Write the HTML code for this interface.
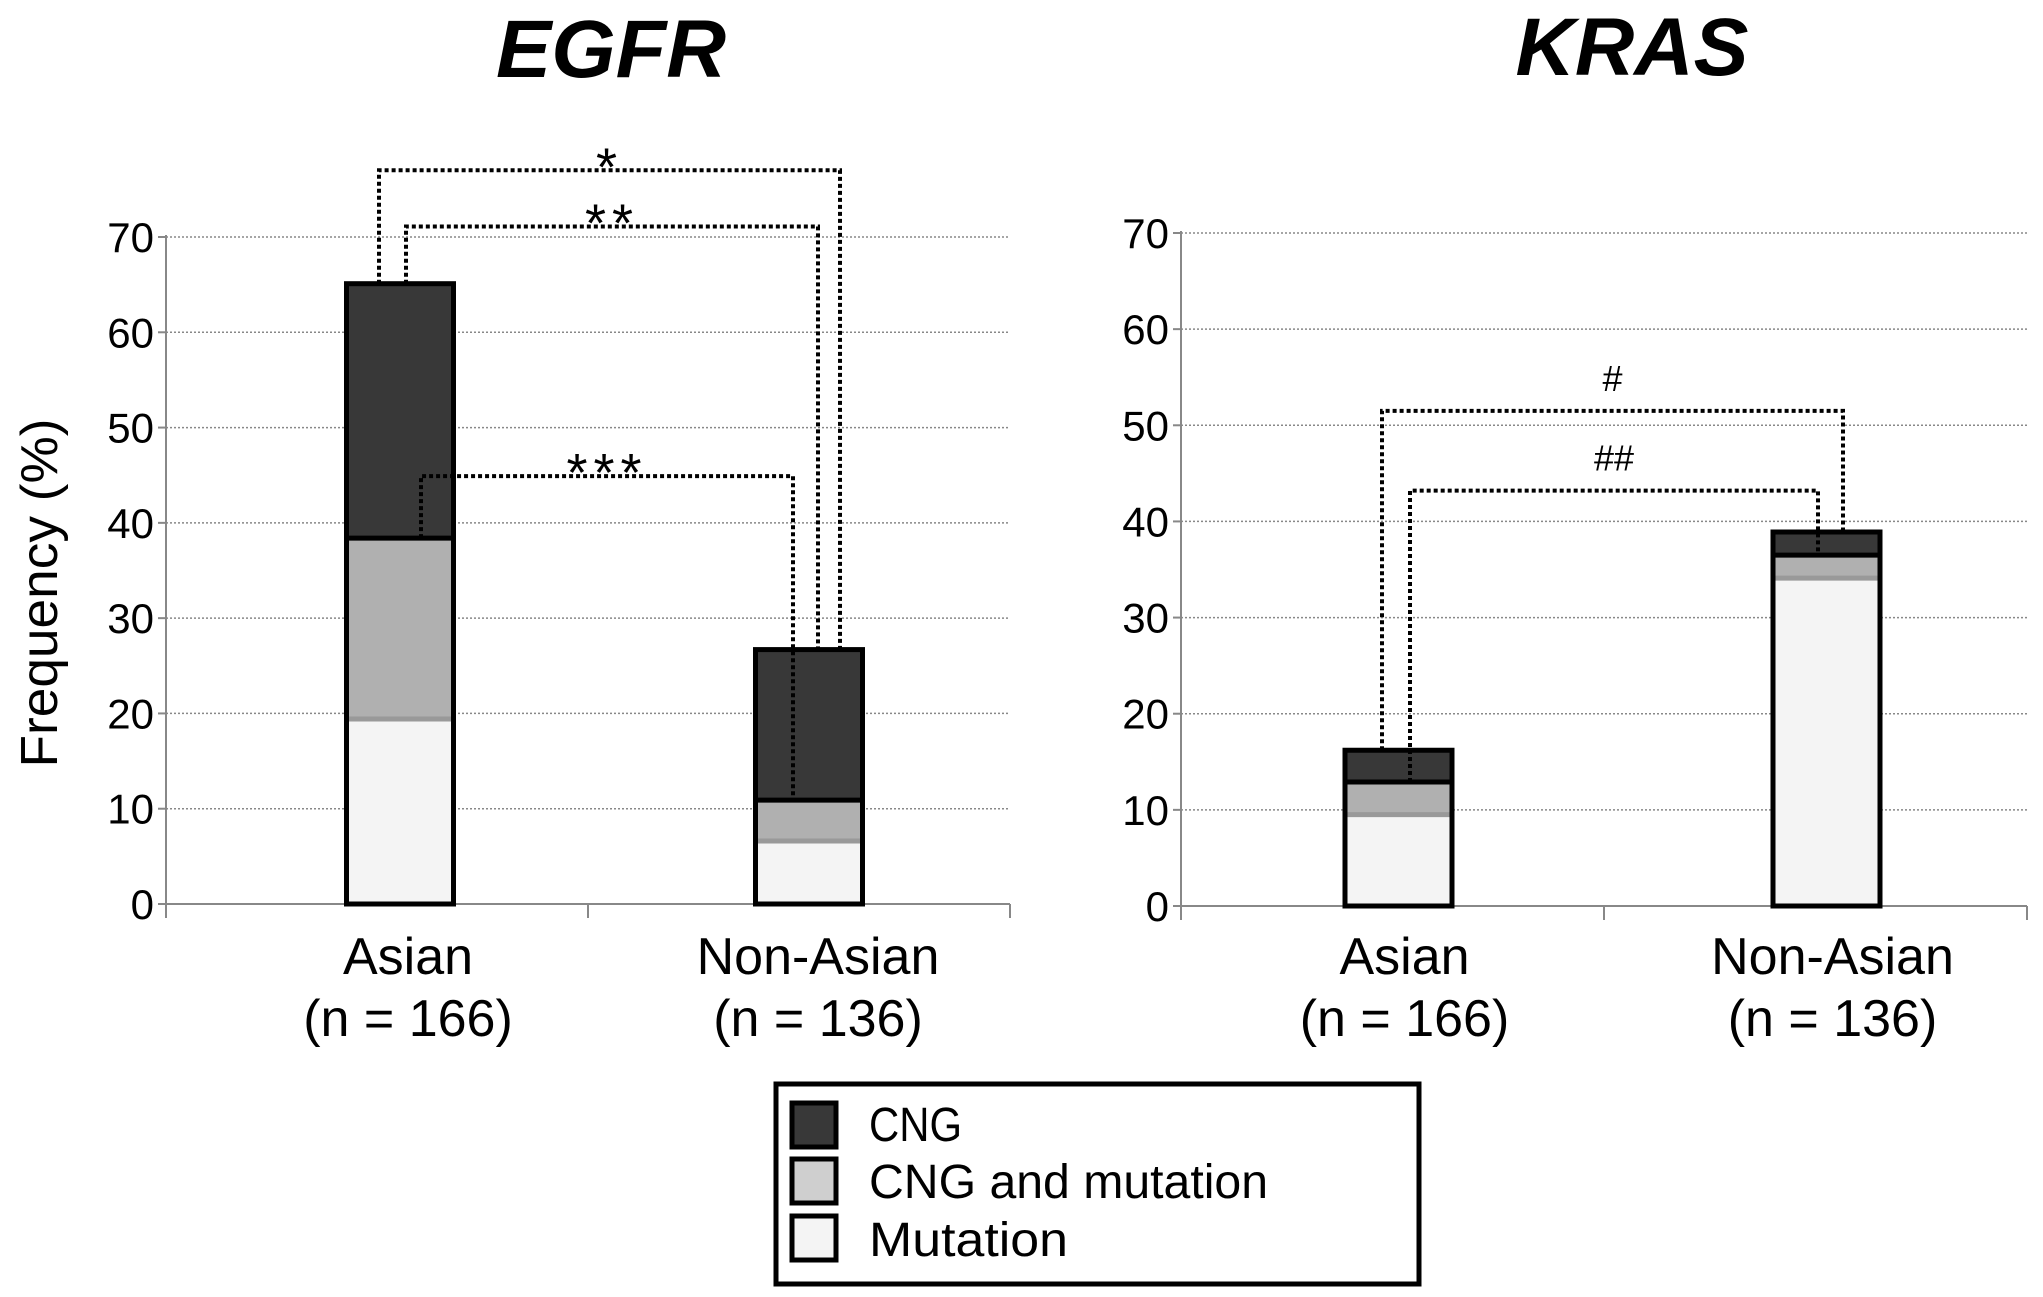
<!DOCTYPE html>
<html><head><meta charset="utf-8"><style>
html,body{margin:0;padding:0;background:#fff;}
svg{display:block;font-family:"Liberation Sans",Arial,sans-serif;}
</style></head><body>
<svg id="fig" width="2043" height="1297" viewBox="0 0 2043 1297">
<text x="611" y="77" font-size="82" font-weight="bold" font-style="italic" text-anchor="middle" textLength="230" lengthAdjust="spacingAndGlyphs">EGFR</text>
<text x="1632" y="75" font-size="82" font-weight="bold" font-style="italic" text-anchor="middle" textLength="233" lengthAdjust="spacingAndGlyphs">KRAS</text>
<text transform="translate(57,593) rotate(-90)" font-size="52" text-anchor="middle" textLength="349" lengthAdjust="spacingAndGlyphs">Frequency (%)</text>
<g id="legend">
<rect x="776" y="1084" width="643" height="200" fill="#fff" stroke="#000" stroke-width="5"/>
<rect x="792" y="1103" width="44" height="44" fill="#383838" stroke="#000" stroke-width="5"/>
<text x="869" y="1141" font-size="48" textLength="93" lengthAdjust="spacingAndGlyphs">CNG</text>
<rect x="792" y="1159" width="44" height="44" fill="#cfcfcf" stroke="#000" stroke-width="5"/>
<text x="869" y="1198" font-size="48" textLength="399" lengthAdjust="spacingAndGlyphs">CNG and mutation</text>
<rect x="792" y="1216" width="44" height="44" fill="#f4f4f4" stroke="#000" stroke-width="5"/>
<text x="869" y="1256" font-size="48" textLength="199" lengthAdjust="spacingAndGlyphs">Mutation</text>
</g>
</svg>
<script>
const categories = ["Asian", "Non-Asian"];
const sampleLabels = ["(n = 166)", "(n = 136)"];
const yTicks = [0, 10, 20, 30, 40, 50, 60, 70];
const egfrMutation = [19.2, 6.4];
const egfrCngMut = [19.2, 4.5];
const egfrCng = [26.7, 15.8];
const krasMutation = [9.3, 33.9];
const krasCngMut = [3.6, 2.6];
const krasCng = [3.3, 2.4];
const egfrBracketLevels = [77.0, 71.1, 44.9];
const egfrBracketLabels = ["*", "**", "***"];
const krasBracketLevels = [51.5, 43.2];
const krasBracketLabels = ["#", "##"];

const NS = "http://www.w3.org/2000/svg";
const svg = document.getElementById("fig");
function mk(tag, attrs, parent) {
  const e = document.createElementNS(NS, tag);
  for (const k in attrs) e.setAttribute(k, attrs[k]);
  (parent || svg).appendChild(e);
  return e;
}

function drawPanel(p) {
  const g = mk("g", {});
  
  
  const y = v => p.y0 - (v / 70) * (p.y0 - p.y70);
  const bandW = (p.x1 - p.x0) / categories.length;
  const cx = i => p.x0 + bandW * (i + 0.5) + p.barShift[i];
  yTicks.forEach(t => {
    if (t > 0) {
      const gl = mk("line", {x1: p.x0, x2: p.x1, y1: y(t), y2: y(t), stroke: "#888", "stroke-width": 1.5, "stroke-dasharray": "2,2"}, g);
      
      
    }
    const tk = mk("line", {x1: p.x0 - 8, x2: p.x0, y1: y(t), y2: y(t), stroke: "#888", "stroke-width": 2}, g);
    
    
    const tl = mk("text", {x: p.x0 - 12, y: y(t) + 15, "font-size": 42, "text-anchor": "end"}, g);
    tl.textContent = t;
    
    
  });
  const ya = mk("line", {x1: p.x0, x2: p.x0, y1: p.y70 - 2, y2: p.y0 + 14, stroke: "#888", "stroke-width": 2}, g);
  
  
  const xa = mk("line", {x1: p.x0, x2: p.x1, y1: p.y0, y2: p.y0, stroke: "#888", "stroke-width": 2}, g);
  
  
  [1, 2].forEach(i => {
    const xt = mk("line", {x1: p.x0 + bandW * i, x2: p.x0 + bandW * i, y1: p.y0, y2: p.y0 + 14, stroke: "#888", "stroke-width": 2}, g);
    
    
  });
  categories.forEach((c, i) => {
    const t1 = mk("text", {x: p.x0 + bandW * (i + 0.5) + p.labelShift[i], y: 974, "font-size": 52, "text-anchor": "middle"}, g);
    t1.textContent = c;
    
    
    const t2 = mk("text", {x: p.x0 + bandW * (i + 0.5) + p.labelShift[i], y: 1036, "font-size": 52, "text-anchor": "middle"}, g);
    t2.textContent = sampleLabels[i];
    
    
  });
  const bw = 107;
  categories.forEach((c, i) => {
    const m = p.mut[i], cm = p.cm[i], cn = p.cng[i];
    const x = cx(i) - bw / 2;
    const segs = [[0, m, "#f4f4f4", "mutation"], [m, m + cm, "#b0b0b0", "cng-and-mutation"], [m + cm, m + cm + cn, "#383838", "cng"]];
    segs.forEach(s => {
      const r = mk("rect", {x: x, y: y(s[1]), width: bw, height: y(s[0]) - y(s[1]), fill: s[2]}, g);
      
      
    });
    const ml = mk("line", {x1: x, x2: x + bw, y1: y(m) - 2, y2: y(m) - 2, stroke: "#999", "stroke-width": 5}, g);
    
    
    const cl = mk("line", {x1: x, x2: x + bw, y1: y(m + cm), y2: y(m + cm), stroke: "#000", "stroke-width": 5}, g);
    
    
    const ol = mk("rect", {x: x, y: y(m + cm + cn), width: bw, height: y(0) - y(m + cm + cn), fill: "none", stroke: "#000", "stroke-width": 5}, g);
    
    
  });
  p.brackets.forEach((b, k) => {
    const lvl = p.levels[k];
    const d = `M${b.xl},${y(b.yl)} L${b.xl},${y(lvl)} L${b.xr},${y(lvl)} L${b.xr},${y(b.yr)}`;
    const pa = mk("path", {d: d, fill: "none", stroke: "#000", "stroke-width": 4, "stroke-dasharray": "4,3"}, g);
    
    
    const lt = mk("text", {x: (b.xl + b.xr) / 2, y: y(lvl) + b.ly, "font-size": p.labelSize, "text-anchor": "middle", "letter-spacing": p.ls}, g);
    lt.textContent = p.labels[k];
    
    
  });
}

drawPanel({name: "egfr", x0: 166, x1: 1010, y0: 904, y70: 237, barShift: [23, 10], labelShift: [31, 19],
  mut: egfrMutation, cm: egfrCngMut, cng: egfrCng, levels: egfrBracketLevels, labels: egfrBracketLabels,
  labelSize: 54, ls: 6,
  brackets: [{xl: 379, yl: 65.1, xr: 840, yr: 26.7, ly: 15}, {xl: 406, yl: 65.1, xr: 818, yr: 26.7, ly: 15}, {xl: 421, yl: 38.4, xr: 793, yr: 10.9, ly: 15}]});
drawPanel({name: "kras", x0: 1181, x1: 2027, y0: 906, y70: 233, barShift: [6, 11], labelShift: [12, 17],
  mut: krasMutation, cm: krasCngMut, cng: krasCng, levels: krasBracketLevels, labels: krasBracketLabels,
  labelSize: 36, ls: 0,
  brackets: [{xl: 1382, yl: 16.2, xr: 1843, yr: 38.9, ly: -20}, {xl: 1410, yl: 12.9, xr: 1818, yr: 36.5, ly: -20}]});
</script>
</body></html>
